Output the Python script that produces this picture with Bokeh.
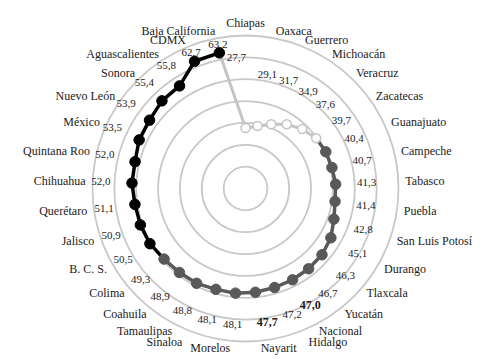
import numpy as np
from bokeh.plotting import figure
from bokeh.models import Range1d
from bokeh.core.properties import value
from bokeh.embed import file_html
from bokeh.resources import INLINE

states = ["Chiapas", "Oaxaca", "Guerrero", "Michoacán", "Veracruz", "Zacatecas",
          "Guanajuato", "Campeche", "Tabasco", "Puebla", "San Luis Potosí", "Durango",
          "Tlaxcala", "Yucatán", "Nacional", "Hidalgo", "Nayarit", "Morelos", "Sinaloa",
          "Tamaulipas", "Coahuila", "Colima", "B. C. S.", "Jalisco", "Querétaro",
          "Chihuahua", "Quintana Roo", "México", "Nuevo León", "Sonora",
          "Aguascalientes", "CDMX", "Baja California"]
values = [27.7, 29.1, 31.7, 34.9, 37.6, 39.7, 40.4, 40.7, 41.3, 41.4, 42.8, 45.1,
          46.3, 46.7, 47.0, 47.2, 47.7, 48.1, 48.1, 48.8, 48.9, 49.3, 50.5, 50.9,
          51.1, 52.0, 52.0, 53.5, 53.9, 55.4, 55.8, 62.7, 63.2]
bold_labels = ["Nacional", "Nayarit"]
ring_values = [10, 20, 30, 40, 50, 60, 70]

FONT = value("Times New Roman")

# figure geometry (page has no margin in the Bokeh template)
W, H = 492, 361
cx, cy = 245, 188          # centre in pixels from left / top
k = 153 / 70.0             # pixels per value unit

p = figure(width=W, height=H, output_backend="svg", toolbar_location=None,
           x_range=Range1d(-cx / k, (W - cx) / k),
           y_range=Range1d(-(H - cy) / k, cy / k),
           min_border=0)
p.axis.visible = False
p.grid.visible = False
p.outline_line_color = None
p.background_fill_color = "white"
p.border_fill_color = "white"

n = len(states)
theta = np.deg2rad(np.arange(n) * 360.0 / n)
v = np.array(values)
xs = v * np.sin(theta)
ys = v * np.cos(theta)

p.circle(x=[0] * len(ring_values), y=[0] * len(ring_values), radius=ring_values,
         fill_color=None, line_color="#c8c8c8", line_width=1.8)

def group(val):
    if val < 40:
        return 0
    if val < 50:
        return 1
    return 2

line_cols = ["#c4c4c4", "#595959", "#000000"]
line_w = [3, 3.5, 3.5]

# segment into point i coloured by the group of point i
for i in range(n):
    g = group(values[i])
    j = i - 1
    p.line([xs[j], xs[i]], [ys[j], ys[i]], line_color=line_cols[g],
           line_width=line_w[g], line_cap="round")

for g in range(3):
    idx = [i for i in range(n) if group(values[i]) == g]
    if g == 0:
        p.scatter(xs[idx], ys[idx], size=9, fill_color="white",
                  line_color="#c4c4c4", line_width=1.5)
    else:
        p.scatter(xs[idx], ys[idx], size=10.5, fill_color=line_cols[g],
                  line_color=line_cols[g], line_width=1)

# category labels
R_cat = 160 / k
R_top_centre = 166 / k
nudge_out = {"Hidalgo": 18, "Sinaloa": 18}
for i, s in enumerate(states):
    deg = i * 360.0 / n
    x = R_cat * np.sin(theta[i])
    y = R_cat * np.cos(theta[i])
    if abs(deg) < 1e-6:
        align = "center"
        y = R_top_centre
    elif deg < 180:
        align = "left"
    else:
        align = "right"
    if s in nudge_out:
        x += (nudge_out[s] / k) * (1 if align == "left" else -1)
    p.text([x], [y], text=[s], text_font=FONT,
           text_font_size="12px", text_color="#1a1a1a",
           text_align=align, text_baseline="middle")

# value labels
lab_angle = {"Chiapas": -4.0, "Hidalgo": 159.7, "Nayarit": 170.7, "Nacional": 151.0}
lab_radius = {"Chiapas": 60.0}
for i, s in enumerate(states):
    lv = min(max(values[i] + 14.2, 53.0), 67.0)
    ang = theta[i]
    if s in lab_angle:
        ang = np.deg2rad(lab_angle[s])
    if s in lab_radius:
        lv = lab_radius[s]
    x = lv * np.sin(ang)
    y = lv * np.cos(ang)
    bold = s in bold_labels
    txt = f"{values[i]:.1f}".replace(".", ",")
    p.text([x], [y], text=[txt], text_font=FONT,
           text_font_size="12px" if bold else "11px",
           text_font_style="bold" if bold else "normal",
           text_color="#1a1a1a", text_align="center", text_baseline="middle")

open("out.html", "w").write(file_html(p, INLINE))
